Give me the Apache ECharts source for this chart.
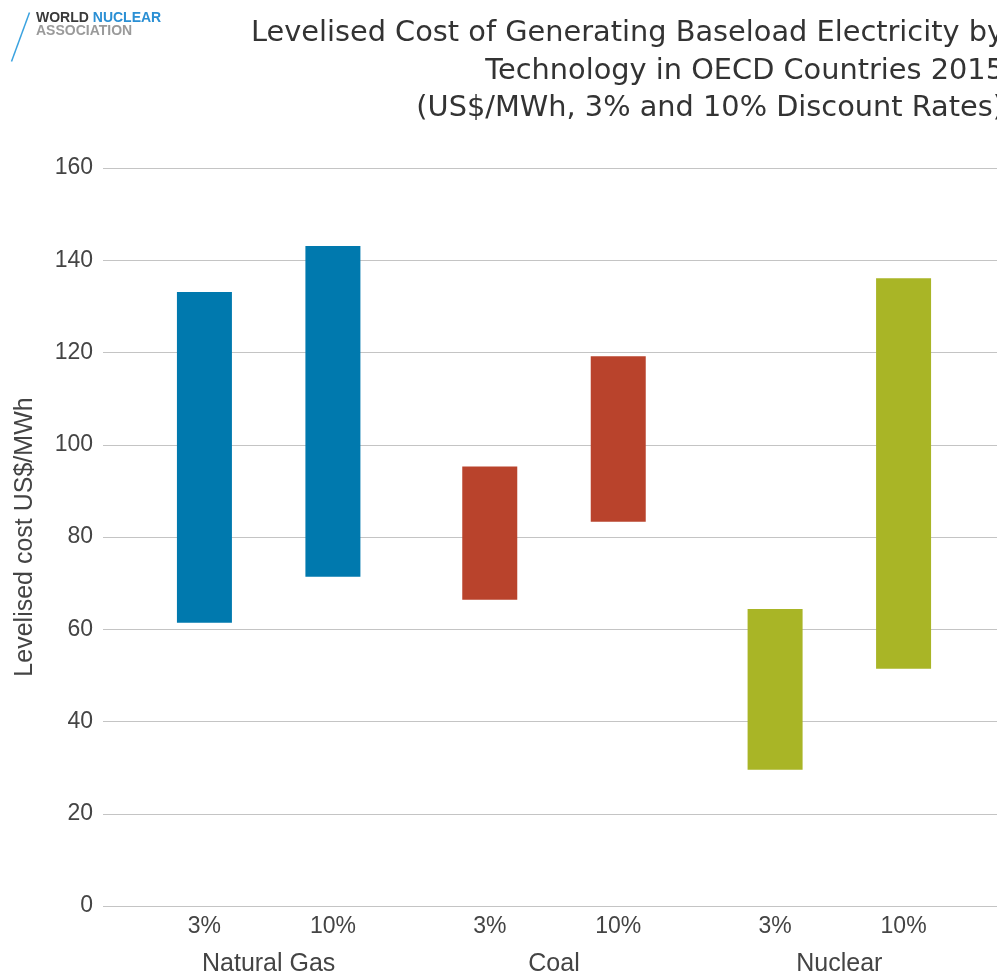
<!DOCTYPE html>
<html>
<head>
<meta charset="utf-8">
<script src="https://cdn.jsdelivr.net/npm/echarts@6/dist/echarts.min.js"></script>
<style>
html,body{margin:0;padding:0;background:#fff;}
#chart{width:997px;height:977px;}
</style>
</head>
<body>
<div id="chart"></div>
<script>
var technologies = ['Natural Gas', 'Coal', 'Nuclear'];
var rateLabels = ['3%', '10%'];
var low3 = [61, 66, 29];
var high3 = [133, 95, 64];
var low10 = [71, 83, 51];
var high10 = [143, 119, 136];
var yTicks = [0, 20, 40, 60, 80, 100, 120, 140, 160];
var techColors = ['#0079ae', '#b9432c', '#a9b526'];
var titleLines = [
  'Levelised Cost of Generating Baseload Electricity by',
  'Technology in OECD Countries 2015',
  '(US$/MWh, 3% and 10% Discount Rates)'
];

var FONT = '"Liberation Sans", Arial, sans-serif';
var TITLE_FONT = '"DejaVu Sans", "Liberation Sans", sans-serif';

function diff(hi, lo) { return hi.map(function (v, i) { return v - lo[i]; }); }

var chart = echarts.init(document.getElementById('chart'));

var rangeStyle = {
  color: function (p) { return techColors[p.dataIndex]; }
};

var option = {
  animation: false,
  backgroundColor: '#ffffff',
  graphic: [
    {
      type: 'text',
      x: 1004,
      y: 15,
      style: {
        text: titleLines.join('\n'),
        align: 'right',
        verticalAlign: 'top',
        fontFamily: TITLE_FONT,
        fontSize: 28.8,
        lineHeight: 37.5,
        fill: '#333333'
      }
    },
    {
      type: 'line',
      shape: { x1: 29.5, y1: 12.5, x2: 11.5, y2: 61.5 },
      style: { stroke: '#3ba3e0', lineWidth: 1.5 }
    },
    {
      type: 'text',
      x: 36,
      y: 11,
      style: {
        text: '{a|WORLD }{b|NUCLEAR}\n{c|ASSOCIATION}',
        rich: {
          a: { fontFamily: FONT, fontSize: 14, fontWeight: 'bold', fill: '#3a3a3a', lineHeight: 13.5 },
          b: { fontFamily: FONT, fontSize: 14, fontWeight: 'bold', fill: '#2a8fd4', lineHeight: 13.5 },
          c: { fontFamily: FONT, fontSize: 14, fontWeight: 'bold', fill: '#9a9a9a', lineHeight: 13.5 }
        }
      }
    }
  ],
  grid: [
    { left: 103, right: 0, top: 168, bottom: 71 },
    { left: 126, right: 15, top: 168, bottom: 71 }
  ],
  xAxis: [
    {
      type: 'category',
      gridIndex: 0,
      data: technologies,
      show: false
    },
    {
      type: 'category',
      gridIndex: 1,
      data: technologies,
      axisLine: { show: false },
      axisTick: { show: false },
      splitLine: { show: false },
      axisLabel: {
        interval: 0,
        margin: 5,
        formatter: function (v) {
          return '{p|' + rateLabels[0] + '}{g|}{p|' + rateLabels[1] + '}\n{n|' + v + '}';
        },
        rich: {
          p: { width: 70, align: 'center', fontFamily: FONT, fontSize: 23, color: '#444', lineHeight: 37 },
          g: { width: 58.5, align: 'center', lineHeight: 37 },
          n: { align: 'center', fontFamily: FONT, fontSize: 25, color: '#444', lineHeight: 39 }
        }
      }
    }
  ],
  yAxis: [
    {
      type: 'value',
      gridIndex: 0,
      min: yTicks[0],
      max: yTicks[yTicks.length - 1],
      interval: yTicks[1] - yTicks[0],
      name: 'Levelised cost US$/MWh',
      nameLocation: 'middle',
      nameGap: 65,
      nameTextStyle: { fontFamily: FONT, fontSize: 25, color: '#444' },
      axisLine: { show: false },
      axisTick: { show: false },
      axisLabel: { margin: 10, fontFamily: FONT, fontSize: 23, color: '#444' },
      splitLine: { show: true, lineStyle: { color: '#c4c4c4', width: 1 } }
    },
    {
      type: 'value',
      gridIndex: 1,
      min: yTicks[0],
      max: yTicks[yTicks.length - 1],
      interval: yTicks[1] - yTicks[0],
      show: false,
      splitLine: { show: false }
    }
  ],
  series: [
    {
      name: '3% base',
      type: 'bar',
      xAxisIndex: 1,
      yAxisIndex: 1,
      stack: 'r3',
      barWidth: 55,
      barGap: '133.6%',
      itemStyle: { color: 'transparent' },
      data: low3,
      silent: true
    },
    {
      name: '3%',
      type: 'bar',
      xAxisIndex: 1,
      yAxisIndex: 1,
      stack: 'r3',
      barWidth: 55,
      barGap: '133.6%',
      itemStyle: rangeStyle,
      data: diff(high3, low3)
    },
    {
      name: '10% base',
      type: 'bar',
      xAxisIndex: 1,
      yAxisIndex: 1,
      stack: 'r10',
      barWidth: 55,
      barGap: '133.6%',
      itemStyle: { color: 'transparent' },
      data: low10,
      silent: true
    },
    {
      name: '10%',
      type: 'bar',
      xAxisIndex: 1,
      yAxisIndex: 1,
      stack: 'r10',
      barWidth: 55,
      barGap: '133.6%',
      itemStyle: rangeStyle,
      data: diff(high10, low10)
    }
  ]
};

chart.setOption(option);
</script>
</body>
</html>
